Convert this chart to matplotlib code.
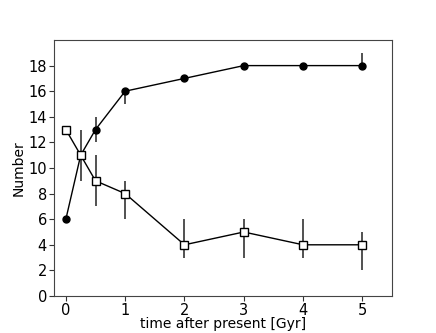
import numpy as np
import matplotlib
matplotlib.use("Agg")
import matplotlib.pyplot as plt

# filled circles
t_circ = [0, 0.25, 0.5, 1, 2, 3, 4, 5]
n_circ = [6, 11, 13, 16, 17, 18, 18, 18]
lo_circ = [0, 0, 1, 1, 0, 0, 0, 0]
hi_circ = [0, 0, 1, 0, 0, 0, 0, 1]

# open squares
t_sq = [0, 0.25, 0.5, 1, 2, 3, 4, 5]
n_sq = [13, 11, 9, 8, 4, 5, 4, 4]
lo_sq = [0, 2, 2, 2, 1, 2, 1, 2]
hi_sq = [0, 2, 2, 1, 2, 1, 2, 1]

fig = plt.figure(figsize=(4.36, 3.33), dpi=100)
ax = fig.add_axes([54/436, 37/333, 338/436, 256/333])

ax.errorbar(t_circ, n_circ, yerr=[lo_circ, hi_circ], fmt='-o', color='k',
            ecolor='#333333', ms=5, lw=1, elinewidth=1.2)
ax.errorbar(t_sq, n_sq, yerr=[lo_sq, hi_sq], fmt='-s', color='k',
            ecolor='#333333', mfc='white', mec='k', ms=6, lw=1, elinewidth=1.2)

ax.set_xlim(-0.2, 5.5)
ax.set_ylim(0, 20)
ax.set_xticks(range(6))
ax.set_yticks(range(0, 20, 2))
ax.tick_params(labelsize=10.5, color='#333333', length=3.5, pad=1.5)
for s in ax.spines.values():
    s.set_color('#444444')
ax.set_xlabel('time after present [Gyr]', fontsize=10, labelpad=-1)
ax.set_ylabel('Number', fontsize=10, labelpad=2)

fig.savefig('out.png', dpi=100)
